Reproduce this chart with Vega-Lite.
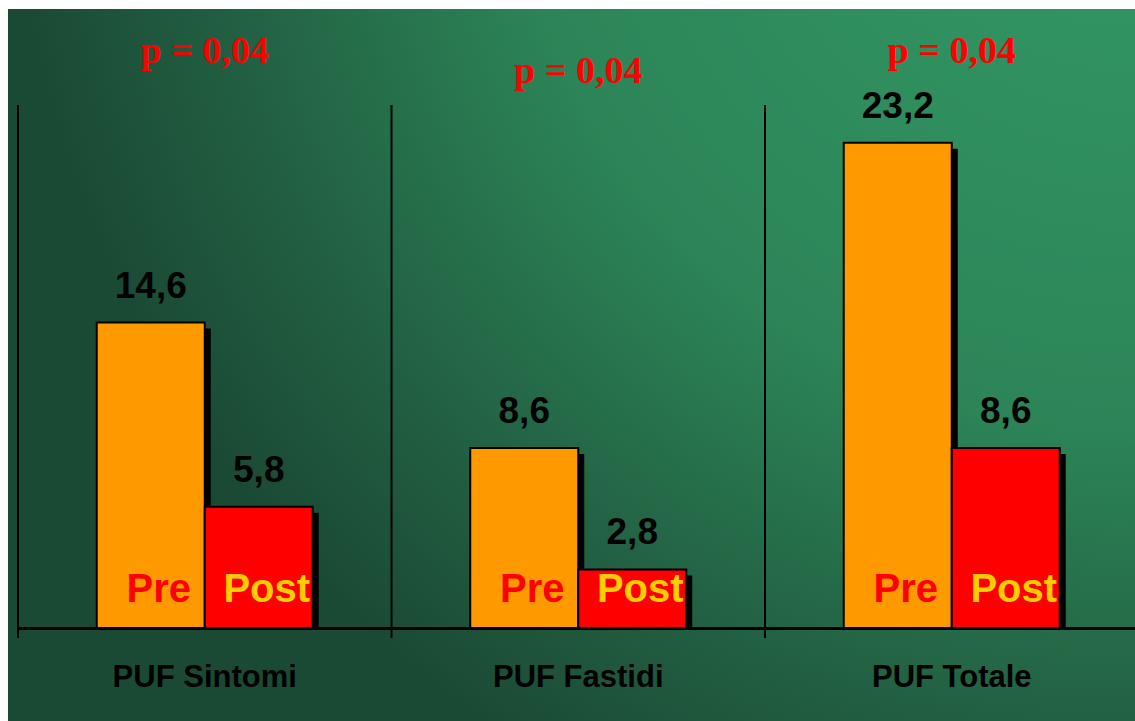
{
  "$schema": "https://vega.github.io/schema/vega-lite/v6.json",
  "width": 1127,
  "height": 712,
  "autosize": {"type": "none"},
  "padding": {"left": 8, "top": 9, "right": 0, "bottom": 0},
  "background": "#ffffff",
  "config": {
    "view": {
      "stroke": null,
      "fill": {
        "gradient": "radial",
        "x1": 1, "y1": 0, "r1": 0,
        "x2": 1, "y2": 0, "r2": 1,
        "stops": [
          {"offset": 0, "color": "#349a67"},
          {"offset": 0.55, "color": "#2c8558"},
          {"offset": 0.85, "color": "#215c40"},
          {"offset": 1, "color": "#1b4a34"}
        ]
      }
    },
    "locale": {
      "number": {"decimal": ",", "thousands": ".", "grouping": [3], "currency": ["", " €"]}
    }
  },
  "datasets": {
    "bars": [
      {"category": "PUF Sintomi", "phase": "Pre", "value": 14.6},
      {"category": "PUF Sintomi", "phase": "Post", "value": 5.8},
      {"category": "PUF Fastidi", "phase": "Pre", "value": 8.6},
      {"category": "PUF Fastidi", "phase": "Post", "value": 2.8},
      {"category": "PUF Totale", "phase": "Pre", "value": 23.2},
      {"category": "PUF Totale", "phase": "Post", "value": 8.6}
    ],
    "pvalues": [
      {"category": "PUF Sintomi", "label": "p = 0,04"},
      {"category": "PUF Fastidi", "label": "p = 0,04"},
      {"category": "PUF Totale", "label": "p = 0,04"}
    ]
  },
  "data": {"name": "bars"},
  "encoding": {
    "x": {
      "field": "category",
      "type": "nominal",
      "sort": ["PUF Sintomi", "PUF Fastidi", "PUF Totale"],
      "scale": {"range": [10, 1130.5], "paddingInner": 0, "paddingOuter": 0},
      "axis": {
        "title": null,
        "orient": "bottom",
        "offset": -93,
        "zindex": 1,
        "domain": true,
        "domainColor": "#000000",
        "domainWidth": 3,
        "ticks": false,
        "grid": false,
        "labelAngle": 0,
        "labelLimit": 0,
        "labelFont": "Liberation Sans",
        "labelFontWeight": "bold",
        "labelFontSize": 31,
        "labelColor": "#000000",
        "labelPadding": 34
      }
    }
  },
  "resolve": {"scale": {"xOffset": "independent"}},
  "layer": [
    {
      "data": {"name": "pvalues"},
      "mark": {"type": "rule", "color": "#000000", "strokeWidth": 2},
      "encoding": {
        "x": {"field": "category", "type": "nominal", "bandPosition": 0},
        "y": {"datum": -0.48, "type": "quantitative", "scale": {"domain": [-4.445, 29.59], "nice": false, "zero": false}, "axis": null},
        "y2": {"datum": 25}
      }
    },
    {
      "mark": {"type": "bar", "color": "#000000", "yOffset": 6},
      "encoding": {
        "xOffset": {"field": "phase", "type": "nominal", "sort": ["Pre", "Post"], "scale": {"type": "band", "range": [6, 379.5], "paddingInner": 0, "paddingOuter": 0.729}},
        "y": {"field": "value", "type": "quantitative", "scale": {"domain": [-4.445, 29.59], "nice": false, "zero": false}, "axis": null},
        "y2": {"datum": 0}
      }
    },
    {
      "mark": {"type": "bar", "stroke": "#000000", "strokeWidth": 2},
      "encoding": {
        "xOffset": {"field": "phase", "type": "nominal", "sort": ["Pre", "Post"], "scale": {"type": "band", "range": [0, 373.5], "paddingInner": 0, "paddingOuter": 0.729}},
        "y": {"field": "value", "type": "quantitative"},
        "y2": {"datum": 0},
        "color": {"field": "phase", "type": "nominal", "scale": {"domain": ["Pre", "Post"], "range": ["#ff9900", "#ff0000"]}, "legend": null}
      }
    },
    {
      "mark": {"type": "text", "font": "Liberation Sans", "fontWeight": "bold", "fontSize": 37, "baseline": "alphabetic", "dy": -25, "color": "#000000"},
      "encoding": {
        "xOffset": {"field": "phase", "type": "nominal", "sort": ["Pre", "Post"], "scale": {"type": "band", "range": [0, 373.5], "paddingInner": 0, "paddingOuter": 0.729}},
        "y": {"field": "value", "type": "quantitative"},
        "text": {"field": "value", "type": "quantitative", "format": ".1f"}
      }
    },
    {
      "mark": {"type": "text", "font": "Liberation Sans", "fontWeight": "bold", "fontSize": 40, "baseline": "middle", "dx": 8},
      "encoding": {
        "xOffset": {"field": "phase", "type": "nominal", "sort": ["Pre", "Post"], "scale": {"type": "band", "range": [0, 373.5], "paddingInner": 0, "paddingOuter": 0.729}},
        "y": {"datum": 1.8, "type": "quantitative"},
        "text": {"field": "phase", "type": "nominal"},
        "fill": {"condition": {"test": "datum.phase === 'Pre'", "value": "#ff0000"}, "value": "#ffcc00"}
      }
    },
    {
      "data": {"name": "pvalues"},
      "transform": [{"filter": "datum.category !== 'PUF Fastidi'"}],
      "mark": {"type": "text", "font": "Liberation Serif", "fontWeight": "bold", "fontSize": 38, "baseline": "alphabetic", "color": "#ff0000"},
      "encoding": {
        "y": {"datum": 27.0, "type": "quantitative"},
        "text": {"field": "label", "type": "nominal"}
      }
    },
    {
      "data": {"name": "pvalues"},
      "transform": [{"filter": "datum.category === 'PUF Fastidi'"}],
      "mark": {"type": "text", "font": "Liberation Serif", "fontWeight": "bold", "fontSize": 38, "baseline": "alphabetic", "color": "#ff0000"},
      "encoding": {
        "y": {"datum": 26.05, "type": "quantitative"},
        "text": {"field": "label", "type": "nominal"}
      }
    }
  ]
}
